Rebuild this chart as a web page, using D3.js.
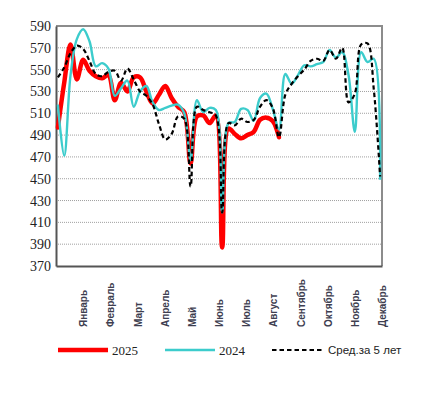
<!DOCTYPE html>
<html>
<head>
<meta charset="utf-8">
<script src="https://cdn.jsdelivr.net/npm/d3@7/dist/d3.min.js"></script>
<style>
  html, body { margin: 0; padding: 0; background: #fff; }
  svg { display: block; }
  .serif { font-family: "Liberation Serif", "Times New Roman", serif; }
  .sans { font-family: "Liberation Sans", Arial, sans-serif; }
</style>
</head>
<body>
<div id="chart"></div>
<script>
// ---- DATA (weekly values, weeks 1..52) ----
const months = ["Январь","Февраль","Март","Апрель","Май","Июнь","Июль","Август","Сентябрь","Октябрь","Ноябрь","Декабрь"];
const yTicks = [370,390,410,430,450,470,490,510,530,550,570,590];

const series2025 = [497,538,573,541,559,549,544,542,545,522,538,530,543,543,530,519,527,535,524,516,511,464,507,508,501,508,387,496,491,487,490,493,504,506,503,488];
const series2024 = [518,471,545,578,587,576,553,556,551,526,533,540,516,530,535,520,513,515,517,518,510,467,522,511,515,513,419,501,502,514,513,503,524,528,514,495,546,537,545,554,553,555,557,568,561,566,545,493,566,557,560,449];
const seriesAvg5 = [543,552,565,572,569,558,546,544,548,549,540,551,541,530,526,518,500,486,491,507,505,443,516,513,511,508,419,501,499,505,502,504,516,522,515,488,527,537,544,550,558,560,558,568,560,570,520,528,573,574,532,452];

const legendItems = [
  {label: "2025", color: "#ff0000", width: 4.5, dash: null, cls: "serif", size: 13},
  {label: "2024", color: "#3ccccc", width: 2.4, dash: null, cls: "serif", size: 13},
  {label: "Сред.за 5 лет", color: "#000000", width: 2.2, dash: "4.5,3", cls: "sans", size: 11.5}
];

(function () {
// ---- LAYOUT ----
const W = 425, H = 393;
const pL = 56, pR = 382, pT = 26, pB = 266;

const svg = d3.select("#chart").append("svg").attr("width", W).attr("height", H);

const x = d3.scaleLinear().domain([0.7, 52.3]).range([pL, pR]);
const xm = d3.scaleLinear().domain([0, 12]).range([pL, pR]);
const y = d3.scaleLinear().domain([370, 590]).range([pB, pT]);

// gridlines
svg.append("g").selectAll("line")
  .data(yTicks.filter(t => t > 370 && t < 590))
  .join("line")
  .attr("x1", pL).attr("x2", pR)
  .attr("y1", d => y(d)).attr("y2", d => y(d))
  .attr("stroke", "#a0a0a0").attr("stroke-width", 1).attr("stroke-dasharray", "1,1");

// frame: top & right gray
svg.append("line").attr("x1", pL).attr("x2", pR + 1).attr("y1", pT).attr("y2", pT)
  .attr("stroke", "#8c8c8c").attr("stroke-width", 2);
svg.append("line").attr("x1", pR).attr("x2", pR).attr("y1", pT).attr("y2", pB)
  .attr("stroke", "#8c8c8c").attr("stroke-width", 2);

// y axis
const yAxis = d3.axisLeft(y).tickValues(yTicks).tickSize(0).tickPadding(5);
const gy = svg.append("g").attr("transform", `translate(${pL},0)`).call(yAxis);
gy.attr("font-family", null);
gy.select(".domain").attr("stroke", "#555").attr("stroke-width", 2);
gy.selectAll("text").attr("class", "serif")
  .style("font-family", '"Liberation Serif", "Times New Roman", serif')
  .style("font-size", "14px").attr("fill", "#222");

// x axis (month labels)
const xAxis = d3.axisBottom(xm).tickValues(d3.range(1, 13)).tickSize(0).tickFormat(d => months[d - 1]);
const gx = svg.append("g").attr("transform", `translate(0,${pB})`).call(xAxis);
gx.attr("font-family", null);
gx.select(".domain").attr("stroke", "#555").attr("stroke-width", 2);
gx.selectAll("text")
  .style("font-family", '"Liberation Sans", Arial, sans-serif')
  .style("font-size", "10px").style("font-weight", "bold").attr("fill", "#3e3e50")
  .attr("text-anchor", "start")
  .attr("transform", "translate(0,61) rotate(-90)")
  .attr("x", 0).attr("y", 0).attr("dy", "0.35em");

// lines
const line = d3.line()
  .x((d, i) => x(i + 1))
  .y(d => y(d))
  .curve(d3.curveCatmullRom.alpha(0.5));

svg.append("path").datum(series2025).attr("d", line)
  .attr("fill", "none").attr("stroke", "#ff0000").attr("stroke-width", 4.5)
  .attr("stroke-linejoin", "round").attr("stroke-linecap", "round");
svg.append("path").datum(series2024).attr("d", line)
  .attr("fill", "none").attr("stroke", "#3ccccc").attr("stroke-width", 2.4)
  .attr("stroke-linejoin", "round");
svg.append("path").datum(seriesAvg5).attr("d", line)
  .attr("fill", "none").attr("stroke", "#000").attr("stroke-width", 2.2)
  .attr("stroke-dasharray", "4.5,3");

// legend
const lx = [58, 165, 272];
const ly = 350;
const lg = svg.append("g").selectAll("g").data(legendItems).join("g")
  .attr("transform", (d, i) => `translate(${lx[i]},${ly})`);
lg.append("line").attr("x1", 0).attr("x2", 50).attr("y1", 0).attr("y2", 0)
  .attr("stroke", d => d.color).attr("stroke-width", d => d.width)
  .attr("stroke-dasharray", d => d.dash);
lg.append("text").attr("x", (d, i) => i === 2 ? 56 : 54).attr("y", 0).attr("dy", "0.35em")
  .attr("class", d => d.cls)
  .style("font-size", d => d.size + "px").attr("fill", "#222")
  .text(d => d.label);
})();
</script>
</body>
</html>
